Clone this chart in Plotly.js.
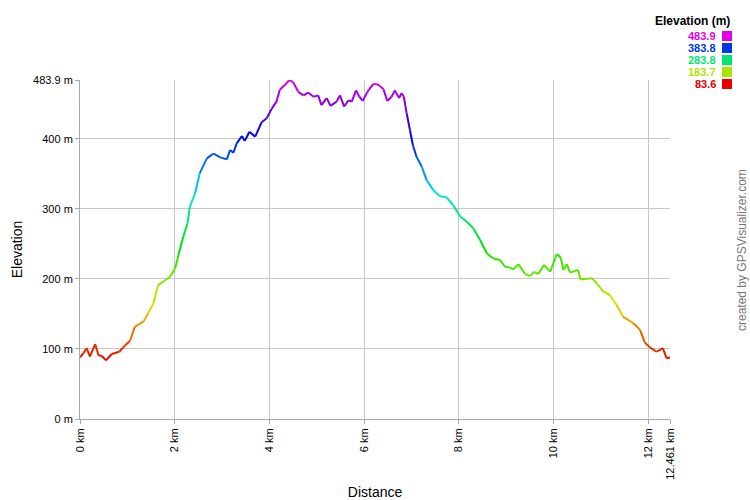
<!DOCTYPE html>
<html>
<head>
<meta charset="utf-8">
<script src="https://cdn.plot.ly/plotly-3.0.1.min.js"></script>
<style>html,body{margin:0;padding:0;background:#fff;}#chart{width:750px;height:500px;}</style>
</head>
<body>
<div id="chart"></div>
<script>
// Distance along track (km)
const distanceKm = [0,0.07,0.14,0.21,0.32,0.39,0.46,0.55,0.67,0.83,
  0.91,1.06,1.16,1.34,1.44,1.55,1.65,1.80,1.90,2.01,
  2.08,2.18,2.27,2.32,2.43,2.53,2.68,2.82,2.96,3.10,
  3.17,3.24,3.31,3.42,3.48,3.58,3.70,3.84,3.94,4.05,
  4.15,4.22,4.33,4.42,4.50,4.61,4.72,4.82,4.93,5.03,
  5.10,5.21,5.29,5.42,5.49,5.58,5.67,5.74,5.83,5.90,
  5.97,6.07,6.19,6.27,6.34,6.41,6.49,6.58,6.65,6.74,
  6.79,6.84,6.90,6.97,7.03,7.11,7.22,7.32,7.46,7.60,
  7.74,7.88,8.03,8.17,8.31,8.45,8.59,8.73,8.87,8.98,
  9.08,9.15,9.26,9.40,9.50,9.59,9.68,9.80,9.93,10.07,
  10.15,10.21,10.28,10.35,10.52,10.57,10.81,10.91,11.05,11.19,
  11.33,11.47,11.69,11.83,11.93,12.04,12.18,12.31,12.39,12.461];
// Elevation (m)
const elevationM = [88,93.7,101,89,107,91,90,83.6,92.8,96,
  102,112,132,139,151,165,191,198,203,215,
  234,260,279,303,322,351,372,379,373.5,370.7,
  384,380,393.5,404,397,410,403,424,429,443,
  453,470,477,483.9,481,467,462,466,460,462,
  448,458,447,453,462,446,455,453,469,460,
  454,467,478,478,475,470.6,454,460,469,458,
  465,460,436,412,391,374,360,341,327,318,
  316.5,305.5,289,281.6,272,255.5,236.5,229,227,217,
  216.5,213.6,221,207,204,210,207,220,210,235.5,
  231,212.7,221,209,212.7,199,201,194,182,177,
  163,146,136.6,127,109,102,96,101,86.6,88];
// Tick labels
const xTickVals = [0,2,4,6,8,10,12,12.461];
const xTickText = ["0 km","2 km","4 km","6 km","8 km","10 km","12 km","12.461 km"];
const yTickVals = [0,100,200,300,400,483.9];
const yTickText = ["0 m","100 m","200 m","300 m","400 m","483.9 m"];
// Colour legend values
const legendVals = [483.9,383.8,283.8,183.7,83.6];

const eMin = 83.6, eMax = 483.9;
function colorFor(e){
  let t = (e - eMin) / (eMax - eMin);
  t = Math.max(0, Math.min(1, t));
  return 'hsl(' + (300 * t).toFixed(1) + ',100%,45%)';
}

const traces = [];
for (let i = 0; i < distanceKm.length - 1; i++) {
  traces.push({
    x: [distanceKm[i], distanceKm[i+1]],
    y: [elevationM[i], elevationM[i+1]],
    type: 'scatter', mode: 'lines',
    line: {color: colorFor((elevationM[i] + elevationM[i+1]) / 2), width: 2},
    hoverinfo: 'skip', showlegend: false
  });
}

// pixel -> paper helpers for the legend placement (plot area 80..670 x, 80..419 y)
const px = p => (p - 80) / 590;
const py = p => (419 - p) / 339;

const annotations = [
  {text: '<b>Elevation (m)</b>', xref: 'paper', yref: 'paper', x: px(731), y: py(21),
   xanchor: 'right', yanchor: 'middle', showarrow: false, borderpad: 0,
   font: {family: 'Liberation Sans, Arial, sans-serif', size: 12, color: '#000'}},
  {text: 'created by GPSVisualizer.com', xref: 'paper', yref: 'paper', x: px(742), y: py(250),
   xanchor: 'center', yanchor: 'middle', textangle: -90, showarrow: false,
   font: {family: 'Liberation Sans, Arial, sans-serif', size: 12, color: '#777'}}
];
const shapes = [];
legendVals.forEach((v, k) => {
  const yc = 36 + 12 * k;
  annotations.push({text: '<b>' + v.toFixed(1) + '</b>', xref: 'paper', yref: 'paper',
    x: px(717), y: py(yc), xanchor: 'right', yanchor: 'middle', showarrow: false, borderpad: 0,
    font: {family: 'Liberation Sans, Arial, sans-serif', size: 11, color: colorFor(v)}});
  shapes.push({type: 'rect', xref: 'paper', yref: 'paper',
    x0: px(722), x1: px(732), y0: py(yc - 5), y1: py(yc + 5),
    fillcolor: colorFor(v), line: {width: 0}});
});

const layout = {
  width: 750, height: 500,
  margin: {l: 80, r: 80, t: 80, b: 81, pad: 0},
  paper_bgcolor: '#fff', plot_bgcolor: '#fff',
  font: {family: 'Liberation Sans, Arial, sans-serif', size: 11, color: '#000'},
  xaxis: {
    range: [0, 12.461], tickmode: 'array', tickvals: xTickVals, ticktext: xTickText,
    tickangle: -90, showgrid: true, gridcolor: '#c8c8c8', gridwidth: 1,
    showline: true, linecolor: '#aaa', linewidth: 1, ticks: 'outside', ticklen: 4, tickcolor: '#aaa',
    zeroline: false, tickfont: {size: 11, color: '#000'},
    title: {text: 'Distance', font: {size: 14, color: '#000'}, standoff: 16}
  },
  yaxis: {
    range: [0, 483.9], tickmode: 'array', tickvals: yTickVals, ticktext: yTickText,
    showgrid: true, gridcolor: '#c8c8c8', gridwidth: 1,
    showline: true, linecolor: '#aaa', linewidth: 1, ticks: 'outside', ticklen: 4, tickcolor: '#aaa',
    zeroline: false, tickfont: {size: 11, color: '#000'},
    title: {text: 'Elevation', font: {size: 14, color: '#000'}, standoff: 7}
  },
  annotations: annotations,
  shapes: shapes,
  showlegend: false
};

Plotly.newPlot('chart', traces, layout, {displayModeBar: false, staticPlot: true});
</script>
</body>
</html>
